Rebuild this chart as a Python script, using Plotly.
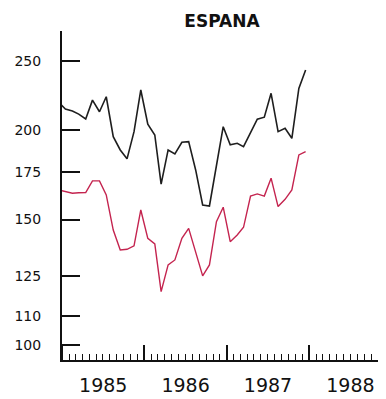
import pandas as pd
import plotly.graph_objects as go

# Monthly observations, Dec 1984 .. Dec 1987 (Dec 1984 point is clipped by the axis)
months = [d.strftime("%Y-%m-16") for d in pd.date_range("1984-12-01", periods=37, freq="MS")]

black_series = [
    219.0,
    214.2, 212.8, 210.7, 207.4, 220.4, 212.3, 222.8, 195.9, 187.7, 182.4, 199.1, 227.7,
    203.9, 197.0, 168.1, 187.7, 185.3, 192.4, 192.8, 176.0, 157.2, 156.7, 179.2, 202.3,
    190.8, 191.8, 189.7, 198.5, 207.3, 208.6, 225.3, 199.1, 201.3, 194.9, 228.9, 242.8,
]

red_series = [
    165.0,
    164.1, 163.3, 163.5, 163.6, 169.9, 169.9, 162.4, 145.0, 136.0, 136.3, 137.8, 154.7,
    141.2, 138.7, 118.9, 129.6, 131.7, 141.2, 145.8, 134.6, 125.1, 129.6, 149.0, 156.1,
    139.7, 142.7, 146.3, 161.8, 162.9, 161.8, 171.4, 156.4, 160.1, 165.0, 184.7, 186.7,
]

y_ticks = [100, 110, 125, 150, 175, 200, 250]
title_text = "ESPANA"

# the page body has an 8px margin, so the figure is drawn from (8, 8)
W, H = 378, 391

fig = go.Figure()
fig.add_trace(go.Scatter(x=months, y=black_series, mode="lines",
                         line=dict(color="#1e1e1e", width=1.6), showlegend=False))
fig.add_trace(go.Scatter(x=months, y=red_series, mode="lines",
                         line=dict(color="#c4244f", width=1.4), showlegend=False))

fig.update_layout(
    width=W, height=H,
    margin=dict(l=54, r=0, t=23, b=39, autoexpand=False),
    paper_bgcolor="white", plot_bgcolor="white",
    title=dict(text="<b>" + title_text + "</b>", xref="container", yref="container",
               x=(222 - 8) / W, y=1 - (21 - 8) / H, xanchor="center", yanchor="middle",
               font=dict(family="DejaVu Sans", size=17, color="#111")),
    font=dict(family="DejaVu Sans", color="#111"),
)

fig.update_yaxes(
    type="log", range=[1.9796, 2.4399],
    tickvals=y_ticks, ticktext=[str(v) for v in y_ticks],
    ticks="inside", ticklen=18, tickwidth=1.5, tickcolor="#111",
    ticklabelstandoff=16,
    showline=True, linecolor="#111", linewidth=2,
    showgrid=False, zeroline=False,
    tickfont=dict(size=14, color="#111"),
)

fig.update_xaxes(
    type="date", range=["1985-01-01", "1988-12-06"],
    tick0="1985-01-01", dtick="M12", tickformat="%Y", ticklabelmode="period",
    ticks="inside", ticklen=15, tickwidth=2, tickcolor="#111",
    ticklabelstandoff=7,
    minor=dict(dtick="M1", ticks="inside", ticklen=6, tickwidth=1, tickcolor="#111", showgrid=False),
    showline=True, linecolor="#111", linewidth=2,
    showgrid=False, zeroline=False,
    tickfont=dict(size=19, color="#111"),
)

fig.write_html("out.html")
